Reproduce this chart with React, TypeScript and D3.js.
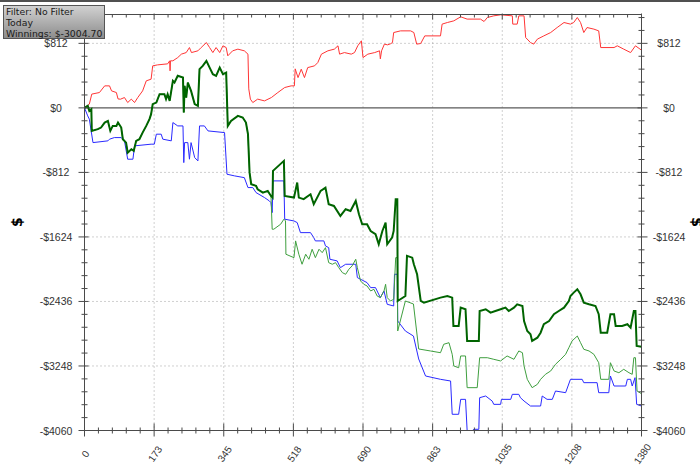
import React from 'react';
import * as d3 from 'd3';

const xTickLabels = ['0', '173', '345', '518', '690', '863', '1035', '1208', '1380'];
const yTickValues = [812, 0, -812, -1624, -2436, -3248, -4060];
const legendLines = ['Filter: No Filter', 'Today', 'Winnings: $-3004.70'];
const handCount = 1380;
const yTop = 1175;
const yBottom = -4060;

// red: non-showdown winnings
const nonShowdown: [number, number][] = [
  [0, 0], [12, 47], [18, 173], [37, 193], [50, 277], [62, 277], [67, 214], [79, 193], [83, 113], [89, 109],
  [99, 130], [107, 67], [116, 110], [124, 67], [132, 130], [144, 214], [153, 340], [165, 361], [169, 529], [181, 541],
  [206, 554], [211, 592], [212, 466], [213, 592], [219, 592], [231, 633], [240, 676], [252, 696], [260, 759], [265, 696],
  [281, 718], [289, 759], [302, 822], [310, 759], [318, 696], [326, 759], [335, 696], [343, 781], [351, 759], [355, 655],
  [367, 718], [380, 739], [396, 718], [405, 676], [407, 239], [411, 110], [417, 67], [429, 110], [446, 88], [463, 130],
  [479, 193], [496, 256], [512, 277], [520, 277], [522, 491], [529, 381], [537, 487], [545, 381], [553, 507], [570, 529],
  [578, 570], [587, 676], [603, 718], [619, 739], [628, 781], [632, 676], [644, 696], [661, 676], [669, 696], [677, 781],
  [686, 844], [690, 633], [702, 676], [719, 696], [731, 718], [733, 617], [736, 718], [743, 802], [751, 793], [758, 806],
  [763, 822], [766, 948], [783, 969], [808, 969], [816, 948], [823, 802], [833, 810], [843, 906], [882, 906], [886, 1054],
  [899, 1074], [915, 1095], [932, 1146], [948, 1117], [981, 1117], [990, 1087], [998, 1137], [1014, 1158], [1031, 1171], [1060, 1158],
  [1061, 1054], [1072, 1054], [1076, 1158], [1089, 1158], [1093, 885], [1105, 822], [1113, 802], [1122, 865], [1138, 906], [1155, 948],
  [1171, 1011], [1188, 1074], [1204, 1054], [1212, 1074], [1221, 1137], [1229, 1074], [1237, 948], [1245, 1011], [1262, 991], [1274, 969],
  [1279, 759], [1312, 759], [1320, 781], [1336, 739], [1353, 696], [1365, 781], [1380, 726],
];

// dark green (thick): net won
const netWon: [number, number][] = [
  [0, 0], [8, 25], [12, -38], [17, -16], [18, -290], [33, -268], [41, -248], [50, -185], [58, -164], [64, -290],
  [70, -227], [79, -227], [83, -185], [91, -248], [95, -394], [103, -437], [107, -563], [116, -520], [122, -541], [128, -415],
  [136, -394], [144, -311], [153, -227], [161, -142], [165, -79], [169, 47], [178, 67], [186, 172], [198, 172], [202, 110],
  [206, 172], [211, 88], [219, 340], [223, 319], [231, 403], [244, 381], [246, -59], [248, 277], [252, 130], [256, 319],
  [264, 214], [273, 47], [281, 25], [285, 487], [293, 529], [302, 592], [310, 507], [318, 424], [326, 403], [335, 507],
  [343, 424], [351, 444], [355, -227], [363, -164], [380, -101], [392, -122], [400, -185], [405, -331], [409, -815], [413, -961],
  [425, -982], [429, -1024], [442, -1066], [454, -1045], [462, -1108], [466, -1129], [467, -793], [494, -667], [496, -1108], [519, -1129],
  [527, -940], [531, -1129], [543, -1149], [560, -1087], [568, -1212], [585, -1045], [597, -1003], [605, -1212], [618, -1234], [634, -1360],
  [647, -1275], [659, -1297], [672, -1171], [680, -1338], [688, -1464], [700, -1464], [709, -1549], [721, -1590], [729, -1716], [738, -1549],
  [746, -1444], [750, -1716], [762, -1633], [766, -1549], [771, -1149], [775, -1149], [776, -2430], [795, -2367], [799, -1863], [812, -1885],
  [816, -1968], [824, -2094], [833, -2430], [841, -2451], [882, -2388], [899, -2367], [911, -2388], [914, -2745], [927, -2745], [932, -2514],
  [944, -2534], [948, -2933], [977, -2933], [979, -2556], [994, -2534], [1006, -2577], [1018, -2556], [1031, -2534], [1043, -2514], [1051, -2556],
  [1064, -2514], [1072, -2472], [1085, -2493], [1089, -2682], [1097, -2808], [1105, -2849], [1109, -2933], [1122, -2892], [1130, -2829], [1138, -2723],
  [1151, -2682], [1163, -2597], [1175, -2556], [1188, -2514], [1200, -2430], [1204, -2367], [1212, -2325], [1221, -2283], [1229, -2346], [1237, -2451],
  [1250, -2472], [1266, -2493], [1274, -2597], [1279, -2829], [1295, -2829], [1303, -2597], [1312, -2597], [1316, -2745], [1332, -2745], [1345, -2723],
  [1353, -2766], [1361, -2556], [1365, -2556], [1368, -2996], [1380, -3004.7],
];

// light green (thin): all-in adjusted
const allInAdjusted: [number, number][] = [
  [0, 0], [8, 25], [12, -38], [17, -16], [18, -290], [33, -268], [41, -248], [50, -185], [58, -164], [64, -290],
  [70, -227], [79, -227], [83, -185], [91, -248], [95, -394], [103, -437], [107, -563], [116, -520], [122, -541], [128, -415],
  [136, -394], [144, -311], [153, -227], [161, -142], [165, -79], [169, 47], [178, 67], [186, 172], [198, 172], [202, 110],
  [206, 172], [211, 88], [219, 340], [223, 319], [231, 403], [244, 381], [246, -59], [248, 277], [252, 130], [256, 319],
  [264, 214], [273, 47], [281, 25], [285, 487], [293, 529], [302, 592], [310, 507], [318, 424], [326, 403], [335, 507],
  [343, 424], [351, 444], [355, -227], [363, -164], [380, -101], [392, -122], [400, -185], [405, -331], [409, -815], [413, -961],
  [425, -982], [429, -1024], [442, -1066], [454, -1045], [462, -1108], [465, -1527], [469, -1527], [486, -1464], [494, -1401], [498, -1423],
  [499, -1842], [519, -1885], [523, -1674], [531, -1842], [539, -1968], [548, -1842], [556, -1905], [564, -1779], [572, -1885], [581, -1779],
  [589, -1822], [597, -1759], [605, -1948], [614, -1968], [622, -1948], [630, -2011], [639, -2074], [647, -2094], [655, -2031], [663, -1989],
  [672, -1905], [676, -2011], [684, -2178], [692, -2220], [700, -2241], [709, -2304], [717, -2283], [725, -2367], [733, -2388], [742, -2304],
  [746, -2220], [750, -2388], [758, -2430], [766, -2409], [771, -1885], [775, -1885], [776, -2808], [795, -2430], [815, -2468], [828, -3034],
  [857, -3059], [882, -3081], [890, -2975], [903, -2955], [911, -3101], [915, -3248], [927, -3270], [932, -3122], [944, -3122], [948, -3521],
  [973, -3521], [979, -3144], [998, -3144], [1014, -3164], [1031, -3185], [1047, -3122], [1064, -3164], [1076, -3059], [1085, -3081], [1089, -3248],
  [1097, -3416], [1109, -3521], [1122, -3479], [1130, -3416], [1142, -3353], [1155, -3311], [1167, -3227], [1180, -3164], [1192, -3101], [1200, -3018],
  [1208, -2933], [1221, -2871], [1229, -2955], [1237, -3038], [1250, -3059], [1262, -3101], [1274, -3207], [1279, -3416], [1299, -3416], [1303, -3207],
  [1312, -3311], [1324, -3333], [1336, -3290], [1349, -3333], [1357, -3353], [1361, -3144], [1365, -3144], [1369, -3563], [1380, -3597],
];

// blue: showdown winnings
const showdown: [number, number][] = [
  [0, 0], [8, -101], [12, -142], [21, -437], [58, -415], [62, -394], [74, -374], [91, -374], [99, -415], [107, -646],
  [120, -646], [124, -478], [165, -457], [173, -457], [178, -331], [190, -331], [194, -394], [215, -415], [219, -185], [231, -227],
  [244, -227], [246, -689], [248, -437], [256, -437], [260, -646], [264, -437], [273, -626], [281, -667], [285, -227], [297, -227],
  [306, -290], [347, -311], [353, -835], [372, -856], [396, -878], [405, -1003], [417, -1003], [425, -1066], [446, -1129], [458, -1171],
  [462, -1192], [465, -1318], [467, -919], [494, -919], [496, -1401], [519, -1423], [527, -1444], [535, -1570], [560, -1570], [568, -1633],
  [572, -1674], [593, -1674], [597, -1737], [605, -1759], [608, -1905], [626, -1926], [634, -2011], [647, -1968], [672, -1968], [676, -2136],
  [684, -2157], [700, -2199], [709, -2262], [721, -2262], [733, -2388], [742, -2304], [750, -2472], [766, -2493], [768, -2094], [775, -2094],
  [776, -2682], [795, -2808], [815, -2871], [828, -3160], [845, -3374], [882, -3416], [907, -3437], [911, -3856], [927, -3856], [932, -3668],
  [944, -3668], [948, -4060], [961, -4060], [965, -4045], [977, -4045], [979, -3647], [994, -3626], [1010, -3689], [1014, -3731], [1031, -3731],
  [1033, -3668], [1056, -3668], [1060, -3605], [1076, -3605], [1080, -3647], [1089, -3689], [1105, -3752], [1130, -3752], [1134, -3626], [1146, -3668],
  [1159, -3668], [1167, -3563], [1192, -3584], [1204, -3416], [1233, -3416], [1237, -3458], [1270, -3458], [1274, -3584], [1299, -3584], [1303, -3374],
  [1312, -3500], [1341, -3500], [1345, -3416], [1353, -3416], [1357, -3500], [1364, -3395], [1368, -3731], [1380, -3752],
];

const fmtDollar = (v: number) => (v < 0 ? '-$' : '$') + Math.abs(v);

export default function App() {
  const W = 700;
  const H = 472;
  const x = d3.scaleLinear().domain([0, handCount]).range([84.5, 641.5]);
  const y = d3.scaleLinear().domain([yBottom, yTop]).range([430.5, 14.5]);
  const line = d3
    .line<[number, number]>()
    .x((d) => x(d[0]))
    .y((d) => y(d[1]));

  const left = x(0);
  const right = x(handCount);
  const top = y(yTop);
  const bottom = y(yBottom);

  const xMajorStep = handCount / 8;
  const xMajor = xTickLabels.map((_, i) => i * xMajorStep);
  const xMinor = d3.range(0, 41).map((i) => (i * handCount) / 40).filter((_, i) => i % 5 !== 0);
  const yStep = 812;
  const yMinor: number[] = [];
  for (let v = yBottom; v <= yTop + 0.01; v += yStep / 5) {
    const k = Math.round((v - yBottom) / (yStep / 5));
    if (k % 5 !== 0) yMinor.push(v);
  }

  const axisColor = '#4a4a4a';
  const labelFont = 'Liberation Sans, Arial, sans-serif';

  return (
    <svg
      width={W}
      height={H}
      style={{ position: 'absolute', left: 0, top: 0, background: '#fff' }}
      xmlns="http://www.w3.org/2000/svg"
    >
      <defs>
        <linearGradient id="legendGrad" x1="0" y1="0" x2="0" y2="1">
          <stop offset="0%" stopColor="#d2d2d2" />
          <stop offset="100%" stopColor="#8c8c8c" />
        </linearGradient>
      </defs>
      <rect x={0} y={0} width={W} height={H} fill="#fff" />
      <rect x={0} y={0} width={W} height={2} fill="#505050" />

      {/* grid */}
      {xMajor.slice(1, -1).map((v, i) => (
        <line key={'gx' + i} x1={x(v)} x2={x(v)} y1={top} y2={bottom} stroke="#a0a0a0" strokeDasharray="1,3" />
      ))}
      {yTickValues
        .filter((v) => v !== 0 && v !== yBottom)
        .map((v, i) => (
          <line key={'gy' + i} x1={left} x2={right} y1={y(v)} y2={y(v)} stroke="#a0a0a0" strokeDasharray="1,3" />
        ))}
      <line x1={left} x2={right} y1={y(0)} y2={y(0)} stroke="#5a5a5a" strokeWidth={1.3} />

      {/* series */}
      <path d={line(showdown) || ''} fill="none" stroke="#2a2aff" strokeWidth={1} />
      <path d={line(allInAdjusted) || ''} fill="none" stroke="#3f9f3f" strokeWidth={1} />
      <path d={line(nonShowdown) || ''} fill="none" stroke="#ff3535" strokeWidth={1} />
      <path d={line(netWon) || ''} fill="none" stroke="#006400" strokeWidth={2} />

      {/* frame */}
      <line x1={left} x2={right} y1={top} y2={top} stroke={axisColor} />
      <line x1={left} x2={right} y1={bottom} y2={bottom} stroke={axisColor} />
      <line x1={left} x2={left} y1={top} y2={bottom} stroke={axisColor} />
      <line x1={right} x2={right} y1={top} y2={bottom} stroke={axisColor} />

      {/* x ticks */}
      {xMajor.map((v, i) => (
        <g key={'xt' + i}>
          <line x1={x(v)} x2={x(v)} y1={bottom - 7} y2={bottom + 6} stroke={axisColor} />
          <line x1={x(v)} x2={x(v)} y1={top - 1} y2={top + 5} stroke={axisColor} />
        </g>
      ))}
      {xMinor.map((v, i) => (
        <g key={'xm' + i}>
          <line x1={x(v)} x2={x(v)} y1={bottom - 3} y2={bottom + 3} stroke={axisColor} />
          <line x1={x(v)} x2={x(v)} y1={top} y2={top + 3} stroke={axisColor} />
        </g>
      ))}
      {xTickLabels.map((t, i) => (
        <text
          key={'xl' + i}
          transform={`translate(${x(xMajor[i]) + 1},${454}) rotate(-55)`}
          textAnchor="middle"
          dominantBaseline="central"
          fontFamily={labelFont}
          fontSize={10}
          fill="#333"
        >
          {t}
        </text>
      ))}

      {/* y ticks */}
      {yTickValues.map((v, i) => (
        <g key={'yt' + i}>
          <line x1={left - 6} x2={left + 4} y1={y(v)} y2={y(v)} stroke={axisColor} />
          <line x1={right - 4} x2={right + 6} y1={y(v)} y2={y(v)} stroke={axisColor} />
          <text x={56} y={y(v)} textAnchor="middle" dominantBaseline="central" fontFamily={labelFont} fontSize={10.5} fill="#333">
            {fmtDollar(v)}
          </text>
          <text x={669} y={y(v)} textAnchor="middle" dominantBaseline="central" fontFamily={labelFont} fontSize={10.5} fill="#333">
            {fmtDollar(v)}
          </text>
        </g>
      ))}
      {yMinor.map((v, i) => (
        <g key={'ym' + i}>
          <line x1={left - 3} x2={left + 3} y1={y(v)} y2={y(v)} stroke={axisColor} />
          <line x1={right - 3} x2={right + 3} y1={y(v)} y2={y(v)} stroke={axisColor} />
        </g>
      ))}

      {/* axis titles */}
      <text
        transform="translate(17,222) rotate(-90)"
        textAnchor="middle"
        dominantBaseline="central"
        fontFamily="DejaVu Sans, sans-serif"
        fontWeight="bold"
        fontSize={14}
        fill="#000"
      >
        $
      </text>
      <text
        transform="translate(697,222) rotate(90)"
        textAnchor="middle"
        dominantBaseline="central"
        fontFamily="DejaVu Sans, sans-serif"
        fontWeight="bold"
        fontSize={14}
        fill="#000"
      >
        $
      </text>

      {/* legend */}
      <rect x={3.5} y={5.5} width={101} height={33} fill="url(#legendGrad)" stroke="#555" />
      {legendLines.map((t, i) => (
        <text
          key={'lg' + i}
          x={6}
          y={15 + i * 10.8}
          fontFamily="DejaVu Sans, sans-serif"
          fontSize={9.3}
          fill="#1a1a1a"
        >
          {t}
        </text>
      ))}
    </svg>
  );
}
